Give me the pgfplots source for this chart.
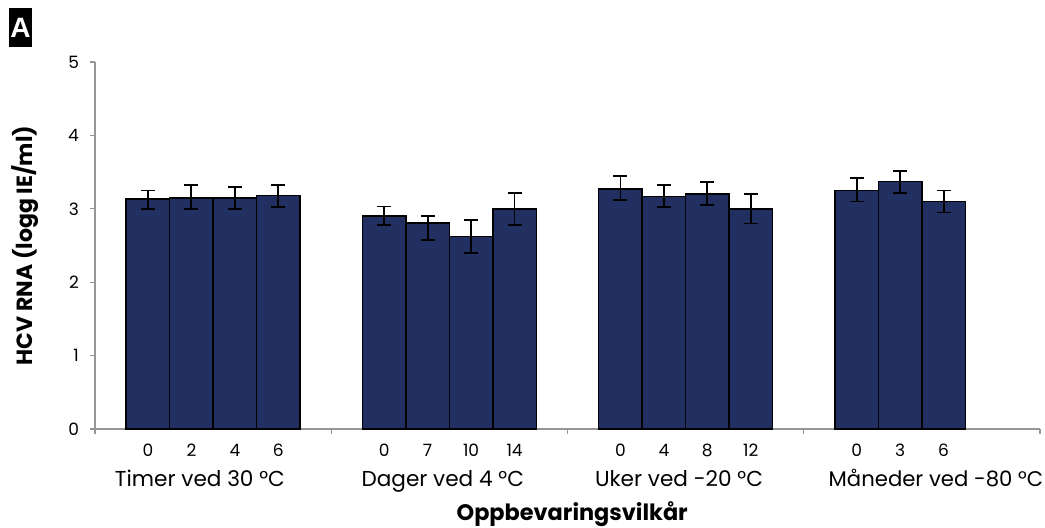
\documentclass[border=0pt]{standalone}
\usepackage{pgfplots}
\pgfplotsset{compat=1.18}
\usepackage{fontspec}
\setmainfont{Poppins}
\newfontfamily\arialfont{Liberation Sans}
\definecolor{navy}{RGB}{33,47,97}
\definecolor{axgray}{RGB}{150,150,150}
\begin{document}
\begin{tikzpicture}
\path[use as bounding box] (-47.5pt,-49.5pt) rectangle (475pt,214.5pt);
\node[fill=black, text=white, font=\arialfont\bfseries\fontsize{14pt}{14pt}\selectfont,
  minimum width=11.5pt, minimum height=19.5pt, inner sep=0pt]
  at (-37.25pt,200.75pt) {A};
\begin{axis}[
  at={(0,0)}, anchor=south west,
  scale only axis, width=472.5pt, height=183.5pt,
  xmin=0, xmax=4, ymin=0, ymax=5,
  axis lines=left,
  axis line style={-, draw=axgray, line width=0.6pt},
  tick align=outside, major tick length=2.5pt,
  tick style={draw=axgray, line width=0.6pt},
  ytick={0,1,2,3,4,5},
  xtick={0,1,2,3,4}, xticklabels={,,,,},
  extra x ticks={0.224,0.408,0.592,0.776, 1.224,1.408,1.592,1.776, 2.224,2.408,2.592,2.776, 3.224,3.408,3.592},
  extra x tick labels={0,2,4,6, 0,7,10,14, 0,4,8,12, 0,3,6},
  extra x tick style={major tick length=0pt, tick style={draw=none}},
  /pgf/number format/assume math mode=true,
  tick label style={font=\fontsize{8.5pt}{10pt}\selectfont},
  xticklabel style={yshift=-4pt},
  yticklabel style={xshift=-2pt},
  ylabel={HCV RNA (logg IE/ml)},
  ylabel style={at={(axis description cs:-0.074,0.5)}, anchor=center,
    font=\bfseries\fontsize{11pt}{12pt}\selectfont},
  xlabel={Oppbevaringsvilkår},
  xlabel style={at={(axis description cs:0.505,-0.232)}, anchor=center,
    font=\bfseries\fontsize{11.2pt}{12pt}\selectfont},
  clip=false,
]
\addplot[ybar, bar width=0.184, fill=navy, draw=black, line width=0.8pt,
  error bars/.cd, y dir=both, y explicit,
  error bar style={line width=0.9pt, black},
  error mark options={rotate=90, mark size=3.5pt, line width=0.9pt, black}]
coordinates {
 (0.224,3.13) += (0,0.12) -= (0,0.13)
 (0.408,3.15) += (0,0.17) -= (0,0.15)
 (0.592,3.15) += (0,0.15) -= (0,0.15)
 (0.776,3.18) += (0,0.14) -= (0,0.16)
 (1.224,2.90) += (0,0.13) -= (0,0.125)
 (1.408,2.81) += (0,0.09) -= (0,0.235)
 (1.592,2.625) += (0,0.225) -= (0,0.225)
 (1.776,3.00) += (0,0.22) -= (0,0.225)
 (2.224,3.27) += (0,0.18) -= (0,0.15)
 (2.408,3.17) += (0,0.15) -= (0,0.15)
 (2.592,3.20) += (0,0.17) -= (0,0.15)
 (2.776,3.00) += (0,0.20) -= (0,0.20)
 (3.224,3.25) += (0,0.17) -= (0,0.15)
 (3.408,3.37) += (0,0.15) -= (0,0.15)
 (3.592,3.10) += (0,0.15) -= (0,0.15)
};
\addplot[draw=none, mark=none,
  error bars/.cd, y dir=both, y explicit,
  error bar style={line width=0.7pt, axgray},
  error mark options={rotate=90, mark size=3.5pt, line width=0.9pt, axgray}]
coordinates {(3.776,0) +- (0,0)};
\node[anchor=base, font=\fontsize{10.8pt}{12pt}\selectfont] at (axis description cs:0.111,-0.158) {Timer ved 30 °C};
\node[anchor=base, font=\fontsize{10.8pt}{12pt}\selectfont] at (axis description cs:0.368,-0.158) {Dager ved 4 °C};
\node[anchor=base, font=\fontsize{10.8pt}{12pt}\selectfont] at (axis description cs:0.618,-0.158) {Uker ved -20 °C};
\node[anchor=base west, inner sep=0pt, font=\fontsize{10.6pt}{12pt}\selectfont] at (axis description cs:0.776,-0.158) {Måneder ved -80 °C};
\end{axis}
\end{tikzpicture}
\end{document}
